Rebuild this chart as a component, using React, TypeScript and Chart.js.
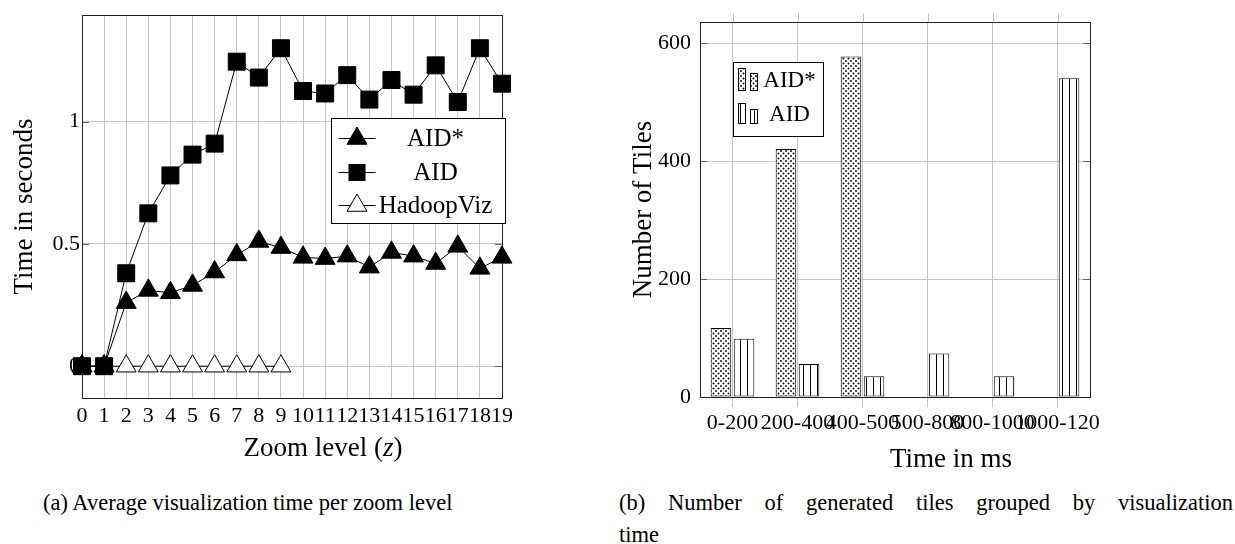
import React, { useEffect, useRef } from "react";
import { Chart, registerables } from "chart.js";

Chart.register(...registerables);

const FONT = '"Liberation Serif", serif';

// ---- Left chart data: average visualization time per zoom level ----
const zoomLevels = [0, 1, 2, 3, 4, 5, 6, 7, 8, 9, 10, 11, 12, 13, 14, 15, 16, 17, 18, 19];
const aidStarTimes = [0, 0, 0.26, 0.31, 0.3, 0.33, 0.385, 0.455, 0.51, 0.485, 0.445, 0.44, 0.45, 0.405, 0.465, 0.45, 0.42, 0.49, 0.4, 0.445];
const aidTimes = [0, 0, 0.38, 0.625, 0.78, 0.865, 0.91, 1.245, 1.18, 1.3, 1.125, 1.115, 1.19, 1.09, 1.17, 1.11, 1.23, 1.08, 1.3, 1.155];
const hadoopVizLevels = [0, 1, 2, 3, 4, 5, 6, 7, 8, 9];
const hadoopVizTimes = [0, 0, 0, 0, 0, 0, 0, 0, 0, 0];
const timeTicks = [0, 0.5, 1];

// ---- Right chart data: number of tiles grouped by visualization time ----
const timeBins = ["0-200", "200-400", "400-500", "500-800", "800-1000", "1000-120"];
const aidStarTiles = [117, 421, 578, 0, 0, 0];
const aidTiles = [99, 56, 35, 74, 35, 541];
const tileTicks = [0, 200, 400, 600];

const GRID = "#c4c4c4";
const FRAME = "#222";
const TICKDARK = "#666";

Chart.defaults.font.family = FONT;

function makeDotPattern(ctx: CanvasRenderingContext2D) {
  const c = document.createElement("canvas");
  c.width = 5;
  c.height = 5;
  const g = c.getContext("2d")!;
  g.fillStyle = "#fff";
  g.fillRect(0, 0, 5, 5);
  g.fillStyle = "#000";
  g.beginPath();
  g.arc(1, 1, 0.95, 0, Math.PI * 2);
  g.fill();
  g.beginPath();
  g.arc(3.5, 3.5, 0.95, 0, Math.PI * 2);
  g.fill();
  return ctx.createPattern(c, "repeat")!;
}

function makeLinePattern(ctx: CanvasRenderingContext2D) {
  const c = document.createElement("canvas");
  c.width = 7;
  c.height = 7;
  const g = c.getContext("2d")!;
  g.fillStyle = "#fff";
  g.fillRect(0, 0, 7, 7);
  g.fillStyle = "#000";
  g.fillRect(0, 0, 1, 7);
  return ctx.createPattern(c, "repeat")!;
}

function drawMixed(ctx: CanvasRenderingContext2D, parts: [string, string][], cx: number, baseline: number) {
  let total = 0;
  for (const [t, f] of parts) {
    ctx.font = f;
    total += ctx.measureText(t).width;
  }
  let x = cx - total / 2;
  ctx.textAlign = "left";
  ctx.textBaseline = "alphabetic";
  for (const [t, f] of parts) {
    ctx.font = f;
    ctx.fillText(t, x, baseline);
    x += ctx.measureText(t).width;
  }
}

function drawTriangle(ctx: CanvasRenderingContext2D, x: number, y: number, r: number, fill: string) {
  ctx.beginPath();
  ctx.moveTo(x, y - r);
  ctx.lineTo(x + r * 0.866, y + r / 2);
  ctx.lineTo(x - r * 0.866, y + r / 2);
  ctx.closePath();
  ctx.fillStyle = fill;
  ctx.fill();
  ctx.strokeStyle = "#000";
  ctx.lineWidth = 1;
  ctx.stroke();
}

const framePlugin = {
  id: "frame",
  beforeDatasetsDraw(chart: any) {
    const { ctx, chartArea: a } = chart;
    ctx.save();
    const ys = chart.scales.y;
    ctx.strokeStyle = TICKDARK;
    ctx.lineWidth = 1;
    for (const t of ys.ticks) {
      const py = Math.round(ys.getPixelForValue(t.value)) + 0.5;
      ctx.beginPath();
      ctx.moveTo(a.left, py);
      ctx.lineTo(a.left + 7, py);
      ctx.moveTo(a.right - 7, py);
      ctx.lineTo(a.right, py);
      ctx.stroke();
    }
    ctx.strokeStyle = FRAME;
    ctx.strokeRect(Math.round(a.left) + 0.5, Math.round(a.top) + 0.5, Math.round(a.right - a.left), Math.round(a.bottom - a.top));
    ctx.restore();
  },
};

const leftDecor = {
  id: "leftDecor",
  afterDraw(chart: any) {
    const { ctx, chartArea: a } = chart;
    ctx.save();
    const bx = Math.round(a.right - 171) + 0.5;
    const by = Math.round(a.top + 103) + 0.5;
    const bw = 174;
    const bh = 105;
    ctx.fillStyle = "#fff";
    ctx.fillRect(bx, by, bw, bh);
    ctx.strokeStyle = "#000";
    ctx.lineWidth = 1;
    ctx.strokeRect(bx, by, bw, bh);
    const rows = [
      { label: "AID*", kind: "tri", fill: "#000", dy: 20 },
      { label: "AID", kind: "sq", fill: "#000", dy: 54 },
      { label: "HadoopViz", kind: "tri", fill: "#fff", dy: 87 },
    ];
    for (const r of rows) {
      const y = by + r.dy;
      ctx.strokeStyle = "#000";
      ctx.lineWidth = 1;
      ctx.beginPath();
      ctx.moveTo(bx + 7, y);
      ctx.lineTo(bx + 44, y);
      ctx.stroke();
      const mx = bx + 25.5;
      if (r.kind === "tri") drawTriangle(ctx, mx, y, 11.5, r.fill);
      else {
        ctx.fillStyle = "#000";
        ctx.fillRect(mx - 8.5, y - 8.5, 17, 17);
      }
      ctx.fillStyle = "#000";
      ctx.font = '25px "Liberation Serif"';
      ctx.textAlign = "center";
      ctx.textBaseline = "middle";
      ctx.fillText(r.label, bx + 104, y + 1);
    }
    ctx.fillStyle = "#000";
    ctx.font = '27px "Liberation Serif"';
    ctx.textAlign = "center";
    ctx.textBaseline = "alphabetic";
    ctx.save();
    ctx.translate(32, (a.top + a.bottom) / 2);
    ctx.rotate(-Math.PI / 2);
    ctx.fillText("Time in seconds", 0, 0);
    ctx.restore();
    drawMixed(
      ctx,
      [
        ["Zoom level (", '27px "Liberation Serif"'],
        ["z", 'italic 27px "Liberation Serif"'],
        [")", '27px "Liberation Serif"'],
      ],
      323,
      456
    );
    ctx.restore();
  },
};

const rightDecor = {
  id: "rightDecor",
  beforeDatasetsDraw(chart: any) {
    const { ctx, chartArea: a } = chart;
    const xs = chart.scales.x;
    ctx.save();
    ctx.strokeStyle = GRID;
    ctx.lineWidth = 1;
    for (let i = 0; i < timeBins.length; i++) {
      const px = Math.round(xs.getPixelForValue(i)) + 0.5;
      ctx.beginPath();
      ctx.moveTo(px, a.top - 9);
      ctx.lineTo(px, a.top);
      ctx.stroke();
    }
    ctx.restore();
  },
  afterDraw(chart: any) {
    const { ctx, chartArea: a } = chart;
    const dots = chart.$dots;
    const lines = chart.$lines;
    if (!dots || !lines) return;
    ctx.save();
    const bx = Math.round(a.left + 33) + 0.5;
    const by = Math.round(a.top + 40) + 0.5;
    const bw = 90;
    const bh = 74;
    ctx.fillStyle = "#fff";
    ctx.fillRect(bx, by, bw, bh);
    ctx.strokeStyle = "#000";
    ctx.lineWidth = 1;
    ctx.strokeRect(bx, by, bw, bh);
    const rows = [
      { label: "AID*", pat: dots, y1: 6, y2: 28, y1b: 11 },
      { label: "AID", pat: lines, y1: 41, y2: 61, y1b: 47 },
    ];
    for (const r of rows) {
      ctx.fillStyle = r.pat;
      ctx.fillRect(bx + 5, by + r.y1, 7, r.y2 - r.y1);
      ctx.strokeRect(bx + 5, by + r.y1, 7, r.y2 - r.y1);
      ctx.fillRect(bx + 17, by + r.y1b, 7, r.y2 - r.y1b);
      ctx.strokeRect(bx + 17, by + r.y1b, 7, r.y2 - r.y1b);
      ctx.fillStyle = "#000";
      ctx.font = '23px "Liberation Serif"';
      ctx.textAlign = "center";
      ctx.textBaseline = "middle";
      ctx.fillText(r.label, bx + 56, by + (r.y1 + r.y2) / 2 + 1);
    }
    ctx.fillStyle = "#000";
    ctx.font = '27px "Liberation Serif"';
    ctx.textAlign = "center";
    ctx.textBaseline = "alphabetic";
    ctx.save();
    ctx.translate(51, (a.top + a.bottom) / 2);
    ctx.rotate(-Math.PI / 2);
    ctx.fillText("Number of Tiles", 0, 0);
    ctx.restore();
    ctx.fillText("Time in ms", 351, 467);
    ctx.restore();
  },
};

const tickFont = { family: FONT, size: 22 };

export default function App() {
  const leftRef = useRef<HTMLCanvasElement>(null);
  const rightRef = useRef<HTMLCanvasElement>(null);

  useEffect(() => {
    const lctx = leftRef.current!.getContext("2d")!;
    const left = new Chart(lctx, {
      type: "line",
      data: {
        datasets: [
          {
            label: "AID*",
            data: zoomLevels.map((x, i) => ({ x, y: aidStarTimes[i] })),
            borderColor: "#000",
            borderWidth: 1,
            pointStyle: "triangle",
            pointRadius: 11.5,
            pointBackgroundColor: "#000",
            pointBorderColor: "#000",
            pointBorderWidth: 1,
            tension: 0,
            clip: false,
            order: 1,
          } as any,
          {
            label: "AID",
            data: zoomLevels.map((x, i) => ({ x, y: aidTimes[i] })),
            borderColor: "#000",
            borderWidth: 1,
            pointStyle: "rect",
            pointRadius: 12,
            pointBackgroundColor: "#000",
            pointBorderColor: "#000",
            pointBorderWidth: 1,
            tension: 0,
            clip: false,
            order: 0,
          } as any,
          {
            label: "HadoopViz",
            data: hadoopVizLevels.map((x, i) => ({ x, y: hadoopVizTimes[i] })),
            borderColor: "#000",
            borderWidth: 1,
            pointStyle: "triangle",
            pointRadius: 11.5,
            pointBackgroundColor: "#fff",
            pointBorderColor: "#000",
            pointBorderWidth: 1,
            tension: 0,
            clip: false,
            order: 2,
          } as any,
        ],
      },
      options: {
        responsive: false,
        animation: false,
        devicePixelRatio: 1,
        events: [],
        layout: { padding: { left: 0, right: 78, top: 10, bottom: 0 } },
        plugins: { legend: { display: false }, tooltip: { enabled: false } },
        scales: {
          x: {
            type: "linear",
            min: 0,
            max: 19,
            afterBuildTicks: (s: any) => {
              s.ticks = zoomLevels.map((v) => ({ value: v }));
            },
            afterFit: (s: any) => {
              s.height = 82;
            },
            grid: { color: GRID, lineWidth: 1, drawTicks: false },
            border: { display: false },
            ticks: {
              autoSkip: false,
              maxRotation: 0,
              minRotation: 0,
              padding: 5,
              color: "#000",
              font: tickFont,
              callback: (v: any) => String(v),
            },
          },
          y: {
            type: "linear",
            min: -0.13,
            max: 1.435,
            afterBuildTicks: (s: any) => {
              s.ticks = timeTicks.map((v) => ({ value: v }));
            },
            afterFit: (s: any) => {
              s.width = 82;
            },
            grid: { color: GRID, lineWidth: 1, drawTicks: false },
            border: { display: false },
            ticks: {
              padding: 2,
              color: "#000",
              font: tickFont,
              callback: (v: any) => String(v),
            },
          },
        },
      } as any,
      plugins: [framePlugin, leftDecor],
    });

    const rctx = rightRef.current!.getContext("2d")!;
    const dots = makeDotPattern(rctx);
    const lines = makeLinePattern(rctx);
    const right = new Chart(rctx, {
      type: "bar",
      data: {
        labels: timeBins,
        datasets: [
          {
            label: "AID*",
            data: aidStarTiles,
            backgroundColor: dots,
            borderColor: "#000",
            borderWidth: 1,
            borderSkipped: false,
            categoryPercentage: 0.71,
            barPercentage: 0.89,
          } as any,
          {
            label: "AID",
            data: aidTiles,
            backgroundColor: lines,
            borderColor: "#000",
            borderWidth: 1,
            borderSkipped: false,
            categoryPercentage: 0.71,
            barPercentage: 0.89,
          } as any,
        ],
      },
      options: {
        responsive: false,
        animation: false,
        devicePixelRatio: 1,
        events: [],
        layout: { padding: { left: 0, right: 145, top: 9, bottom: 0 } },
        plugins: { legend: { display: false }, tooltip: { enabled: false } },
        scales: {
          x: {
            afterFit: (s: any) => {
              s.height = 83;
            },
            grid: { color: GRID, lineWidth: 1, offset: false, drawTicks: true, tickLength: 10 },
            border: { display: false },
            ticks: {
              autoSkip: false,
              maxRotation: 0,
              minRotation: 0,
              padding: 3,
              color: "#000",
              font: tickFont,
            },
          },
          y: {
            min: 0,
            max: 636,
            afterBuildTicks: (s: any) => {
              s.ticks = tileTicks.map((v) => ({ value: v }));
            },
            afterFit: (s: any) => {
              s.width = 100;
            },
            grid: { color: GRID, lineWidth: 1, drawTicks: false },
            border: { display: false },
            ticks: {
              padding: 9,
              color: "#000",
              font: tickFont,
              callback: (v: any) => String(v),
            },
          },
        },
      } as any,
      plugins: [framePlugin, rightDecor],
    });
    (right as any).$dots = dots;
    (right as any).$lines = lines;
    right.update();

    return () => {
      left.destroy();
      right.destroy();
    };
  }, []);

  const capStyle: React.CSSProperties = {
    position: "absolute",
    fontFamily: FONT,
    fontSize: "22.5px",
    lineHeight: "32px",
    color: "#000",
    whiteSpace: "nowrap",
  };

  return (
    <div style={{ position: "fixed", left: 0, top: 0, width: 1235, height: 544, background: "#fff", overflow: "hidden" }}>
      <canvas ref={leftRef} width={580} height={480} style={{ position: "absolute", left: 0, top: 0, width: 580, height: 480 }} />
      <canvas ref={rightRef} width={635} height={480} style={{ position: "absolute", left: 600, top: 0, width: 635, height: 480 }} />
      <div style={{ ...capStyle, left: 43, top: 487 }}>(a) Average visualization time per zoom level</div>
      <div
        style={{
          ...capStyle,
          left: 619,
          top: 487,
          width: 614,
          whiteSpace: "normal",
          textAlign: "justify",
          textAlignLast: "justify",
        }}
      >
        (b) Number of generated tiles grouped by visualization
      </div>
      <div style={{ ...capStyle, left: 619, top: 519 }}>time</div>
    </div>
  );
}
